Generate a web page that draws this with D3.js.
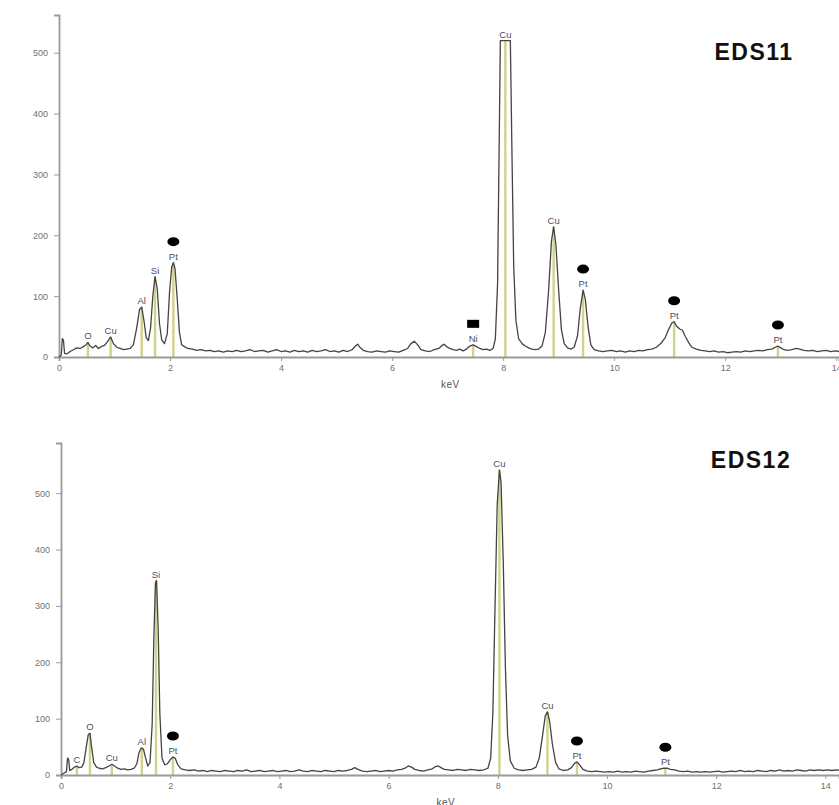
<!DOCTYPE html>
<html>
<head>
<meta charset="utf-8">
<script src="https://cdn.jsdelivr.net/npm/d3@7"></script>
<style>
  html, body { margin: 0; padding: 0; background: #fff; }
  svg { display: block; }
  text { font-family: "Liberation Sans", Arial, sans-serif; }
</style>
</head>
<body>
<svg id="chart" width="839" height="805"></svg>
<script>
// ---------- DATA ----------
const xTicks = [0, 2, 4, 6, 8, 10, 12, 14];
const yTicks = [0, 100, 200, 300, 400, 500];

// EDS11 spectrum: [keV, counts]
const spectrum11 = [
[0.00,0],[0.04,3],[0.06,30],[0.08,28],[0.10,6],[0.14,5],[0.20,9],[0.26,12],[0.32,15],[0.38,14],[0.44,17],[0.49,20],[0.52,24],[0.56,18],[0.61,15],[0.66,19],[0.71,14],[0.76,17],[0.82,19],[0.87,25],[0.93,33],[0.98,22],[1.04,16],[1.10,14],[1.16,12],[1.22,13],[1.28,14],[1.34,20],[1.40,48],[1.45,78],[1.49,82],[1.53,60],[1.57,32],[1.61,27],[1.65,48],[1.69,100],[1.73,132],[1.77,112],[1.81,55],[1.85,28],[1.90,22],[1.95,38],[1.99,105],[2.03,148],[2.06,155],[2.09,145],[2.13,95],[2.17,40],[2.21,20],[2.26,17],[2.32,14],[2.40,13],[2.48,11],[2.56,12],[2.64,10],[2.72,11],[2.80,9],[2.88,10],[2.96,8],[3.04,10],[3.12,9],[3.20,11],[3.28,9],[3.36,10],[3.44,12],[3.52,9],[3.60,10],[3.68,11],[3.76,8],[3.84,10],[3.92,12],[4.00,9],[4.08,10],[4.16,8],[4.24,11],[4.32,9],[4.40,10],[4.48,8],[4.56,11],[4.64,9],[4.72,10],[4.80,12],[4.88,9],[4.96,10],[5.04,8],[5.12,11],[5.20,9],[5.28,12],[5.34,18],[5.38,21],[5.42,16],[5.48,11],[5.56,9],[5.64,8],[5.72,10],[5.80,9],[5.88,8],[5.96,10],[6.04,9],[6.12,8],[6.20,11],[6.28,14],[6.34,22],[6.40,26],[6.46,20],[6.52,12],[6.60,10],[6.68,9],[6.76,12],[6.84,14],[6.90,19],[6.94,21],[6.98,17],[7.04,14],[7.10,12],[7.16,11],[7.22,13],[7.28,10],[7.34,13],[7.40,18],[7.46,20],[7.52,17],[7.58,14],[7.64,12],[7.70,13],[7.76,11],[7.82,14],[7.86,30],[7.90,120],[7.93,360],[7.95,520],[8.13,520],[8.16,330],[8.19,150],[8.23,60],[8.28,30],[8.34,22],[8.40,18],[8.46,15],[8.52,13],[8.58,12],[8.64,13],[8.70,18],[8.76,40],[8.82,110],[8.87,190],[8.91,214],[8.95,185],[9.00,110],[9.05,45],[9.10,22],[9.16,15],[9.22,13],[9.28,16],[9.34,35],[9.39,80],[9.44,110],[9.48,95],[9.53,50],[9.58,20],[9.64,12],[9.72,10],[9.80,9],[9.88,10],[9.96,11],[10.04,9],[10.12,10],[10.20,8],[10.28,10],[10.36,9],[10.44,11],[10.52,10],[10.60,12],[10.68,13],[10.76,16],[10.84,22],[10.92,32],[10.98,45],[11.04,56],[11.08,58],[11.13,50],[11.18,46],[11.23,44],[11.28,34],[11.34,24],[11.40,16],[11.48,13],[11.56,11],[11.64,10],[11.72,9],[11.80,10],[11.88,8],[11.96,9],[12.04,7],[12.12,8],[12.20,9],[12.28,8],[12.36,10],[12.44,9],[12.52,10],[12.60,11],[12.68,10],[12.76,12],[12.84,13],[12.90,16],[12.95,18],[13.00,15],[13.06,12],[13.12,11],[13.20,12],[13.28,14],[13.34,13],[13.42,11],[13.50,10],[13.58,11],[13.66,9],[13.74,10],[13.82,11],[13.90,9],[13.98,10],[14.05,9]
];

// EDS12 spectrum: [keV, counts]
const spectrum12 = [
[0.00,0],[0.05,3],[0.10,6],[0.12,30],[0.14,28],[0.16,8],[0.20,10],[0.25,14],[0.29,16],[0.33,13],[0.38,14],[0.42,22],[0.46,48],[0.50,72],[0.53,74],[0.56,50],[0.60,22],[0.65,14],[0.70,12],[0.76,11],[0.82,13],[0.88,16],[0.93,19],[0.98,16],[1.04,12],[1.10,10],[1.16,11],[1.22,9],[1.28,10],[1.34,12],[1.39,20],[1.43,40],[1.47,48],[1.51,46],[1.55,30],[1.59,16],[1.63,22],[1.67,90],[1.70,240],[1.73,340],[1.75,345],[1.78,260],[1.81,110],[1.85,30],[1.90,18],[1.95,20],[2.00,27],[2.05,32],[2.09,30],[2.14,18],[2.20,11],[2.28,9],[2.36,8],[2.44,9],[2.52,7],[2.60,8],[2.68,6],[2.76,8],[2.84,7],[2.92,6],[3.00,8],[3.08,7],[3.16,6],[3.24,8],[3.32,7],[3.40,9],[3.48,6],[3.56,7],[3.64,8],[3.72,6],[3.80,7],[3.88,8],[3.96,6],[4.04,7],[4.12,8],[4.20,6],[4.28,7],[4.36,9],[4.44,7],[4.52,6],[4.60,8],[4.68,7],[4.76,6],[4.84,8],[4.92,7],[5.00,6],[5.08,8],[5.16,7],[5.24,8],[5.32,10],[5.38,13],[5.44,10],[5.52,7],[5.60,6],[5.68,7],[5.76,8],[5.84,6],[5.92,7],[6.00,8],[6.08,7],[6.16,9],[6.24,10],[6.30,12],[6.36,16],[6.42,14],[6.48,10],[6.56,8],[6.64,7],[6.72,9],[6.80,11],[6.86,15],[6.91,16],[6.96,13],[7.02,10],[7.10,9],[7.18,8],[7.26,10],[7.34,9],[7.42,8],[7.50,10],[7.58,9],[7.66,8],[7.74,9],[7.82,12],[7.87,30],[7.91,110],[7.95,300],[7.99,480],[8.03,541],[8.06,520],[8.10,380],[8.14,190],[8.18,70],[8.23,25],[8.30,12],[8.38,9],[8.46,8],[8.54,9],[8.62,10],[8.70,14],[8.76,30],[8.82,70],[8.87,105],[8.91,112],[8.95,95],[9.00,55],[9.06,22],[9.12,11],[9.20,8],[9.28,9],[9.35,13],[9.41,21],[9.45,23],[9.50,18],[9.56,10],[9.64,7],[9.72,6],[9.80,7],[9.88,6],[9.96,5],[10.04,6],[10.12,5],[10.20,7],[10.28,5],[10.36,6],[10.44,5],[10.52,7],[10.60,6],[10.68,5],[10.76,7],[10.84,8],[10.92,9],[10.98,11],[11.04,12],[11.10,12],[11.16,10],[11.24,9],[11.32,7],[11.40,6],[11.48,7],[11.56,5],[11.64,6],[11.72,5],[11.80,6],[11.88,5],[11.96,6],[12.04,7],[12.12,5],[12.20,6],[12.28,7],[12.36,6],[12.44,8],[12.52,6],[12.60,7],[12.68,6],[12.76,8],[12.84,7],[12.92,6],[13.00,8],[13.08,7],[13.16,9],[13.24,7],[13.32,8],[13.40,7],[13.48,9],[13.56,8],[13.64,7],[13.72,9],[13.80,8],[13.88,9],[13.96,8],[14.04,9],[14.12,8],[14.20,9],[14.30,8]
];

// Peak annotations
const peakLabels11 = ["O", "Cu", "Al", "Si", "Pt", "Ni", "Cu", "Cu", "Pt", "Pt", "Pt"];
const peakKeV11    = [0.52, 0.93, 1.49, 1.73, 2.06, 7.46, 8.04, 8.91, 9.44, 11.08, 12.95];
const peakCounts11 = [24, 33, 82, 132, 155, 20, 520, 214, 110, 58, 18];
const peakMarks11  = ["", "", "", "", "circle", "square", "", "", "circle", "circle", "circle"];

const peakLabels12 = ["C", "O", "Cu", "Al", "Si", "Pt", "Cu", "Cu", "Pt", "Pt"];
const peakKeV12    = [0.29, 0.53, 0.93, 1.48, 1.74, 2.05, 8.03, 8.91, 9.45, 11.07];
const peakCounts12 = [16, 74, 19, 48, 345, 32, 541, 112, 23, 12];
const peakMarks12  = ["", "", "", "", "", "circle", "", "", "circle", "circle"];

const panelTitles = ["EDS11", "EDS12"];

// ---------- DRAW ----------
const svg = d3.select("#chart");

function drawPanel(cfg) {
  const g = svg.append("g");
  const x = d3.scaleLinear().domain([0, cfg.xMax]).range([cfg.x0, 839]);
  const y = d3.scaleLinear().domain([0, cfg.yMax]).range([cfg.yBase, cfg.yTop]);

  // yellow peak lines
  g.selectAll("line.peak").data(cfg.keV).enter().append("line")
    .attr("class", "peak")
    .attr("x1", d => x(d)).attr("x2", d => x(d))
    .attr("y1", y(0)).attr("y2", (d, i) => y(cfg.counts[i]))
    .attr("stroke", "#d2d28c").attr("stroke-width", 2.4);

  // axes
  const xAxis = g.append("g").attr("transform", `translate(0,${cfg.yBase})`)
    .call(d3.axisBottom(x).tickValues(xTicks).tickSize(4).tickPadding(4).tickFormat(d3.format("d")));
  const yAxis = g.append("g").attr("transform", `translate(${cfg.x0},0)`)
    .call(d3.axisLeft(y).tickValues(yTicks).tickSize(5).tickPadding(6).tickFormat(d3.format("d")));
  [xAxis, yAxis].forEach(a => {
    a.select(".domain").attr("stroke", "#9a9a9a").attr("stroke-width", 1.8);
    a.selectAll(".tick line").attr("stroke", "#9a9a9a").attr("stroke-width", 1);
    a.selectAll(".tick text").attr("fill", "#6f6f6f").attr("font-size", 9)
      .attr("font-family", "'Liberation Sans', Arial, sans-serif");
  });

  // x axis label
  g.append("text").attr("x", x(7.05)).attr("y", cfg.yBase + 31)
    .attr("text-anchor", "middle").attr("font-size", 10).attr("fill", "#555")
    .attr("letter-spacing", 0.5).text("keV");

  // spectrum
  const line = d3.line().x(d => x(d[0])).y(d => y(d[1]));
  g.append("path").datum(cfg.spectrum)
    .attr("d", line).attr("fill", "none")
    .attr("stroke", "#444").attr("stroke-width", 1.3)
    .attr("stroke-linejoin", "round");

  // element labels
  g.selectAll("text.el").data(cfg.labels).enter().append("text")
    .attr("class", "el")
    .attr("x", (d, i) => x(cfg.keV[i]))
    .attr("y", (d, i) => y(cfg.counts[i]) - 3)
    .attr("text-anchor", "middle").attr("font-size", 9.5)
    .attr("fill", "#4e4e5e").text(d => d);

  // markers
  cfg.marks.forEach((m, i) => {
    if (!m) return;
    const cx = x(cfg.keV[i]);
    const cy = y(cfg.counts[i]) - 21;
    if (m === "circle") {
      g.append("ellipse").attr("cx", cx).attr("cy", cy).attr("rx", 6).attr("ry", 4.5).attr("fill", "#000");
    } else {
      g.append("rect").attr("x", cx - 6).attr("y", cy - 4).attr("width", 12).attr("height", 8).attr("fill", "#000");
    }
  });

  // title
  g.append("text").attr("x", cfg.titleX).attr("y", cfg.titleY)
    .attr("text-anchor", "middle").attr("font-size", 23).attr("font-weight", "bold")
    .attr("letter-spacing", 1.5).attr("fill", "#111").text(cfg.title);
}

drawPanel({
  spectrum: spectrum11, labels: peakLabels11, keV: peakKeV11, counts: peakCounts11, marks: peakMarks11,
  x0: 59, xMax: 14.05, yBase: 357, yTop: 15, yMax: 562, title: panelTitles[0], titleX: 754, titleY: 60
});
drawPanel({
  spectrum: spectrum12, labels: peakLabels12, keV: peakKeV12, counts: peakCounts12, marks: peakMarks12,
  x0: 61, xMax: 14.25, yBase: 775, yTop: 443, yMax: 589, title: panelTitles[1], titleX: 751, titleY: 468
});
</script>
</body>
</html>
